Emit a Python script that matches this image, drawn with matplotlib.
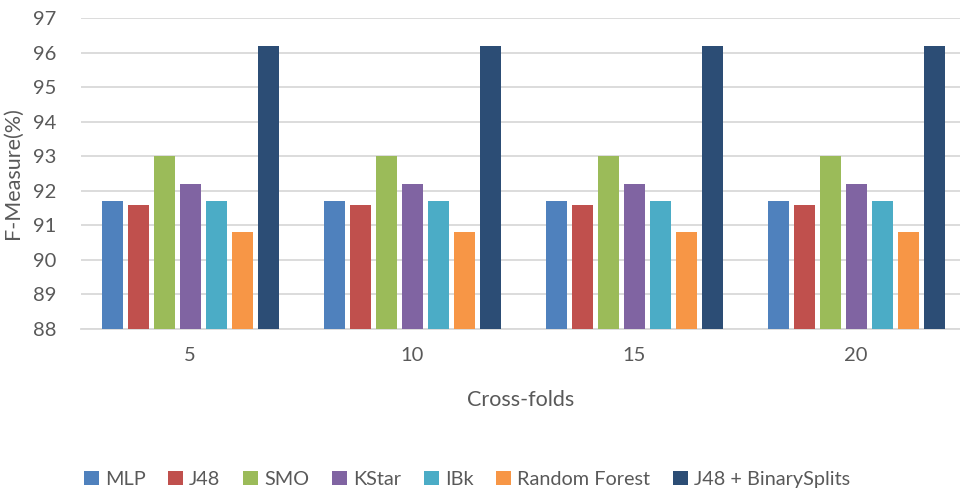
import matplotlib
matplotlib.use("Agg")
import matplotlib.pyplot as plt
import numpy as np

plt.rcParams['font.family'] = ['Lato', 'DejaVu Sans']

folds = ["5", "10", "15", "20"]
classifiers = ["MLP", "J48", "SMO", "KStar", "IBk", "Random Forest", "J48 + BinarySplits"]
f_measure = {
    "MLP": [91.7, 91.7, 91.7, 91.7],
    "J48": [91.6, 91.6, 91.6, 91.6],
    "SMO": [93.0, 93.0, 93.0, 93.0],
    "KStar": [92.2, 92.2, 92.2, 92.2],
    "IBk": [91.7, 91.7, 91.7, 91.7],
    "Random Forest": [90.8, 90.8, 90.8, 90.8],
    "J48 + BinarySplits": [96.2, 96.2, 96.2, 96.2],
}
colors = ["#4F81BD", "#C0504D", "#9BBB59", "#8064A2", "#4BACC6", "#F79646", "#2C4D75"]
y_ticks = list(range(88, 98))

fig = plt.figure(figsize=(9.6, 4.9), dpi=100)
ax = fig.add_axes([81 / 960, 1 - 329 / 490, 1 - 81 / 960, (329 - 18) / 490])

x = np.arange(len(folds))
pitch = 26 / 222
width = 21 / 222
base = 88
for i, (name, col) in enumerate(zip(classifiers, colors)):
    vals = np.array(f_measure[name])
    ax.bar(x + (i - 3) * pitch, vals - base, bottom=base, width=width,
           color=col, label=name, zorder=3)

ax.set_ylim(88, 97)
ax.set_xlim(-0.491, 3.468)
ax.set_yticks(y_ticks)
ax.set_xticks(x)
ax.set_xticklabels(folds)
ax.yaxis.grid(True, color="#D9D9D9", linewidth=1.3, zorder=0)
ax.set_axisbelow(True)
for s in ["top", "right", "left"]:
    ax.spines[s].set_visible(False)
ax.spines["bottom"].set_color("#D9D9D9")
ax.spines["bottom"].set_linewidth(1.3)
ax.tick_params(axis="both", length=0, colors="#595959", labelsize=14.5)
ax.tick_params(axis="y", pad=18)
ax.tick_params(axis="x", pad=13)

fig.text(13 / 960, 1 - 173 / 490, "F-Measure(%)", rotation=90, ha="center", va="center",
         fontsize=15.5, color="#595959")
ax.set_xlabel("Cross-folds", fontsize=15.5, color="#595959", labelpad=19)

leg = fig.legend(loc="center left", bbox_to_anchor=(84 / 960, 1 - 479.5 / 490), ncol=7,
                 frameon=False, fontsize=14.3, handlelength=0.75, handleheight=0.75,
                 handletextpad=0.3, columnspacing=1.15, labelcolor="#595959",
                 borderpad=0, borderaxespad=0)

fig.savefig("out.png", dpi=100)
